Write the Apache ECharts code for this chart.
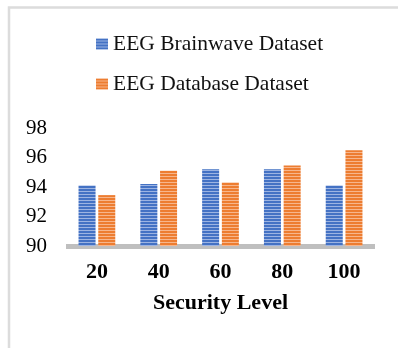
<!DOCTYPE html>
<html>
<head>
<meta charset="utf-8">
<script src="https://cdn.jsdelivr.net/npm/echarts@6/dist/echarts.min.js"></script>
<style>
  html, body { margin: 0; padding: 0; background: #fff; }
  #chart { width: 398px; height: 348px; }
</style>
</head>
<body>
<div id="chart"></div>
<script>
// Categories and values
const securityLevels = ['20', '40', '60', '80', '100'];
const brainwaveValues = [94.1, 94.2, 95.2, 95.2, 94.1];
const databaseValues = [93.45, 95.1, 94.3, 95.45, 96.5];
const seriesNames = ['EEG Brainwave Dataset', 'EEG Database Dataset'];

// Horizontal stripe fill: two solid rows, one light row
function stripes(dark, light) {
  const c = document.createElement('canvas');
  c.width = 4; c.height = 3;
  const ctx = c.getContext('2d');
  ctx.fillStyle = dark; ctx.fillRect(0, 0, 4, 2);
  ctx.fillStyle = light; ctx.fillRect(0, 2, 4, 1);
  return { image: c, repeat: 'repeat' };
}

const blueFill = stripes('#4472C4', '#9DB4E2');
const orangeFill = stripes('#ED7D31', '#F7B68C');

const serif = '"Liberation Serif", "Times New Roman", serif';
const chart = echarts.init(document.getElementById('chart'), null, { renderer: 'canvas' });

chart.setOption({
  animation: false,
  backgroundColor: '#fff',
  textStyle: { fontFamily: serif },
  graphic: [
    {
      type: 'polyline',
      shape: { points: [[9, 348], [9, 7.5], [398, 7.5]] },
      style: { stroke: '#dcdcdc', lineWidth: 2.5, fill: null },
      silent: true
    }
  ],
  legend: {
    orient: 'vertical',
    left: 96,
    top: 33,
    padding: 0,
    itemWidth: 12,
    itemHeight: 11,
    itemGap: 18,
    icon: 'rect',
    textStyle: { fontFamily: serif, fontSize: 21.5, color: '#111', lineHeight: 21 },
    data: seriesNames
  },
  grid: { left: 66, right: 23, top: 128, bottom: 102 },
  xAxis: {
    type: 'category',
    data: securityLevels,
    name: 'Security Level',
    nameLocation: 'middle',
    nameGap: 46,
    nameTextStyle: { fontFamily: serif, fontSize: 22, fontWeight: 'bold', color: '#000' },
    axisLine: { show: true, lineStyle: { color: '#BFBFBF', width: 5, cap: 'butt' } },
    axisTick: { show: false },
    axisLabel: { fontFamily: serif, fontSize: 22, fontWeight: 'bold', color: '#000', margin: 15 }
  },
  yAxis: {
    type: 'value',
    min: 90,
    max: 98,
    interval: 2,
    splitLine: { show: false },
    axisLine: { show: false },
    axisTick: { show: false },
    axisLabel: { fontFamily: serif, fontSize: 21, color: '#000', margin: 19 }
  },
  series: [
    {
      name: seriesNames[0],
      type: 'bar',
      data: brainwaveValues,
      barWidth: 17,
      barGap: '16%',
      itemStyle: { color: blueFill }
    },
    {
      name: seriesNames[1],
      type: 'bar',
      data: databaseValues,
      barWidth: 17,
      itemStyle: { color: orangeFill }
    }
  ]
});
</script>
</body>
</html>
